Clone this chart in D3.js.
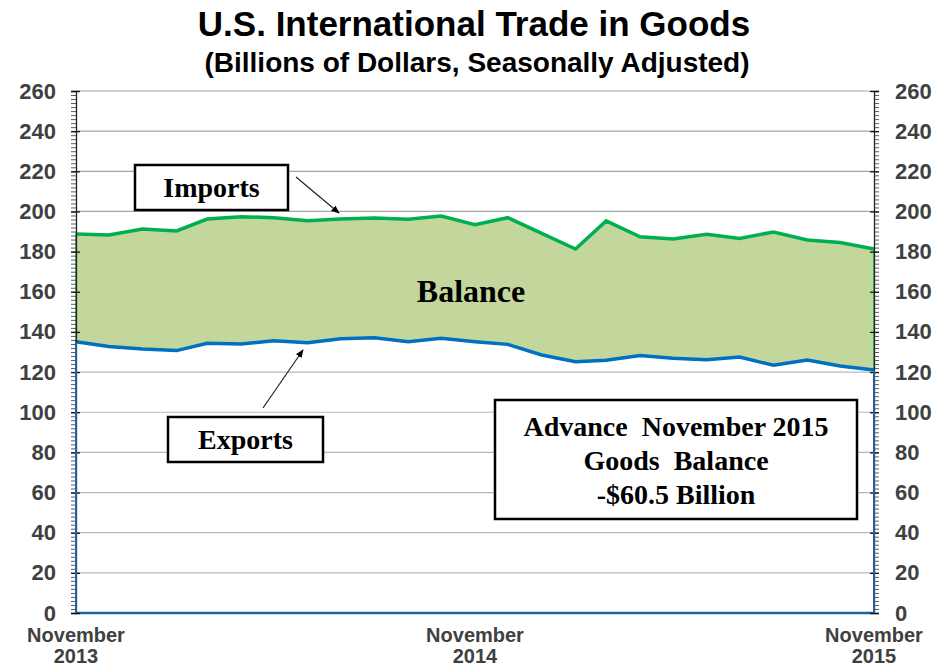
<!DOCTYPE html>
<html>
<head>
<meta charset="utf-8">
<script src="https://cdn.jsdelivr.net/npm/d3@7"></script>
<style>
  body { margin: 0; background: #fff; }
  svg text { font-family: Arial, "Liberation Sans", sans-serif; }
</style>
</head>
<body>
<div id="chart"></div>
<script>
const WIDTH = 948;
const HEIGHT = 669;
const LEFT = 76;
const RIGHT = 874;
const TOP = 91;
const BOTTOM = 613;

// monthly values, Nov 2013 .. Nov 2015
const months = d3.range(25).map(i => new Date(2013, 10 + i, 1));
const imports = [
  188.8, 188.3, 191.3, 190.3, 196.2, 197.4, 196.9, 195.4, 196.2, 196.7,
  196.1, 197.7, 193.4, 196.9, 189.1, 181.3, 195.3, 187.4, 186.3, 188.6,
  186.6, 189.8, 185.8, 184.5, 181.3
];
const exports = [
  135.1, 132.7, 131.5, 130.7, 134.3, 134.0, 135.6, 134.6, 136.6, 137.1,
  135.1, 136.8, 135.1, 133.8, 128.5, 125.2, 125.9, 128.2, 126.9, 126.2,
  127.5, 123.4, 126.0, 123.0, 121.0
];
const yTicks = d3.range(0, 261, 20);
const xTickDates = [new Date(2013, 10, 1), new Date(2014, 10, 1), new Date(2015, 10, 1)];
const xTickLabels = [["November", "2013"], ["November", "2014"], ["November", "2015"]];
const noteLines = ["Advance  November 2015", "Goods  Balance", "-$60.5 Billion"];

const svg = d3
  .select("#chart")
  .append("svg")
  .attr("width", WIDTH)
  .attr("height", HEIGHT);

const xScale = d3
  .scaleTime()
  .domain([months[0], months[months.length - 1]])
  .range([LEFT, RIGHT]);

const yScale = d3.scaleLinear().domain([0, 260]).range([BOTTOM, TOP]);

// title
svg
  .append("text")
  .attr("x", 474)
  .attr("y", 36)
  .attr("text-anchor", "middle")
  .style("font-size", "35px")
  .style("font-weight", "bold")
  .text("U.S. International Trade in Goods");

svg
  .append("text")
  .attr("x", 477)
  .attr("y", 72)
  .attr("text-anchor", "middle")
  .style("font-size", "28px")
  .style("font-weight", "bold")
  .text("(Billions of Dollars, Seasonally Adjusted)");

// grid
svg
  .append("g")
  .selectAll("line")
  .data(yTicks.filter(d => d > 0))
  .enter()
  .append("line")
  .attr("x1", LEFT)
  .attr("x2", RIGHT)
  .attr("y1", d => yScale(d))
  .attr("y2", d => yScale(d))
  .attr("stroke", "#a6a6a6")
  .attr("stroke-width", 1.2);

// imports area (balance fill)
const area = d3
  .area()
  .x((d, i) => xScale(months[i]))
  .y0(yScale(0))
  .y1(d => yScale(d));

svg
  .append("path")
  .datum(imports)
  .attr("d", area)
  .attr("fill", "#c3d69b")
  .attr("stroke", "#00b050")
  .attr("stroke-width", 1.5);

// exports area
svg
  .append("path")
  .datum(exports)
  .attr("d", area)
  .attr("fill", "#ffffff")
  .attr("stroke", "#1f5fa8")
  .attr("stroke-width", 2);

svg
  .append("clipPath")
  .attr("id", "below")
  .append("path")
  .datum(exports)
  .attr("d", area);

// grid again below exports (white fill covers it)
svg
  .append("g")
  .attr("clip-path", "url(#below)")
  .selectAll("line")
  .data(yTicks.filter(d => d > 0))
  .enter()
  .append("line")
  .attr("x1", LEFT + 1)
  .attr("x2", RIGHT - 1)
  .attr("y1", d => yScale(d))
  .attr("y2", d => yScale(d))
  .attr("stroke", "#b8b8b8")
  .attr("stroke-width", 1.2);

const line = d3
  .line()
  .x((d, i) => xScale(months[i]))
  .y(d => yScale(d));

svg
  .append("path")
  .datum(imports)
  .attr("d", line)
  .attr("fill", "none")
  .attr("stroke", "#00b050")
  .attr("stroke-width", 3.5);

svg
  .append("path")
  .datum(exports)
  .attr("d", line)
  .attr("fill", "none")
  .attr("stroke", "#0070c0")
  .attr("stroke-width", 3.5);

// bottom blue edge
svg
  .append("line")
  .attr("x1", LEFT)
  .attr("x2", RIGHT)
  .attr("y1", yScale(0))
  .attr("y2", yScale(0))
  .attr("stroke", "#1f5fa8")
  .attr("stroke-width", 2.5);

// axes
function addAxis(side) {
  const x = side === "left" ? LEFT : RIGHT;
  const minor = (side === "left" ? d3.axisLeft(yScale) : d3.axisRight(yScale))
    .tickValues(d3.range(0, 261, 2))
    .tickSize(5)
    .tickFormat("");
  const gMinor = svg
    .append("g")
    .attr("transform", `translate(${x},0)`)
    .call(minor);
  gMinor.select(".domain").attr("stroke", "#222").attr("stroke-width", 1.3);
  gMinor.selectAll(".tick line").attr("stroke", "#333").attr("stroke-width", 0.8);

  const major = (side === "left" ? d3.axisLeft(yScale) : d3.axisRight(yScale))
    .tickValues(yTicks)
    .tickSize(5)
    .tickPadding(side === "left" ? 15 : 16);
  const gMajor = svg
    .append("g")
    .attr("transform", `translate(${x},0)`)
    .call(major);
  gMajor.select(".domain").remove();
  gMajor
    .selectAll(".tick line")
    .attr("x1", side === "left" ? 4 : -4)
    .attr("stroke", "#111")
    .attr("stroke-width", 1.3);
  gMajor
    .selectAll(".tick text")
    .style("font-size", "22px")
    .style("font-weight", "bold")
    .style("font-family", "Arial, 'Liberation Sans', sans-serif")
    .attr("fill", "#404040");
}
addAxis("left");
addAxis("right");

// blue edges for the exports area over the axis lines
[0, exports.length - 1].forEach(i => {
  svg
    .append("line")
    .attr("x1", xScale(months[i]))
    .attr("x2", xScale(months[i]))
    .attr("y1", yScale(0))
    .attr("y2", yScale(exports[i]))
    .attr("stroke", "#1f5fa8")
    .attr("stroke-width", 2);
});

// x labels
const xLabels = svg
  .append("g")
  .selectAll("text")
  .data(xTickDates)
  .enter()
  .append("text")
  .attr("text-anchor", "middle")
  .style("font-size", "20px")
  .style("font-weight", "bold")
  .attr("fill", "#404040");

xLabels
  .append("tspan")
  .attr("x", d => xScale(d))
  .attr("y", 642)
  .text((d, i) => xTickLabels[i][0]);
xLabels
  .append("tspan")
  .attr("x", d => xScale(d))
  .attr("y", 663)
  .text((d, i) => xTickLabels[i][1]);

// annotation boxes
function addBox(x, y, w, h, lines, size, lineGap, firstBaseline) {
  svg
    .append("rect")
    .attr("x", x)
    .attr("y", y)
    .attr("width", w)
    .attr("height", h)
    .attr("fill", "#fff")
    .attr("stroke", "#000")
    .attr("stroke-width", 2.5);
  lines.forEach((t, i) => {
    svg
      .append("text")
      .attr("x", x + w / 2)
      .attr("y", y + firstBaseline + i * lineGap)
      .attr("text-anchor", "middle")
      .style("font-family", "'Liberation Serif', 'Times New Roman', serif")
      .style("font-weight", "bold")
      .style("font-size", size + "px")
      .style("white-space", "pre")
      .text(t);
  });
}

addBox(135, 165, 153, 45, ["Imports"], 28, 0, 32);
addBox(168, 417, 155, 45, ["Exports"], 28, 0, 32);
addBox(495, 400, 362, 119, noteLines, 28, 34, 36);

// balance label
svg
  .append("text")
  .attr("x", 471)
  .attr("y", 302)
  .attr("text-anchor", "middle")
  .style("font-family", "'Liberation Serif', 'Times New Roman', serif")
  .style("font-weight", "bold")
  .style("font-size", "32px")
  .text("Balance");

// arrows
const defs = svg.append("defs");
defs
  .append("marker")
  .attr("id", "arrow")
  .attr("viewBox", "0 0 10 10")
  .attr("refX", 9)
  .attr("refY", 5)
  .attr("markerWidth", 7)
  .attr("markerHeight", 7)
  .attr("orient", "auto")
  .append("path")
  .attr("d", "M0,1 L10,5 L0,9 Z")
  .attr("fill", "#000");

svg
  .append("line")
  .attr("x1", 296)
  .attr("y1", 177)
  .attr("x2", 339)
  .attr("y2", 213)
  .attr("stroke", "#222")
  .attr("stroke-width", 1.2)
  .attr("marker-end", "url(#arrow)");

svg
  .append("line")
  .attr("x1", 263)
  .attr("y1", 408)
  .attr("x2", 303)
  .attr("y2", 350)
  .attr("stroke", "#222")
  .attr("stroke-width", 1.2)
  .attr("marker-end", "url(#arrow)");
</script>
</body>
</html>
